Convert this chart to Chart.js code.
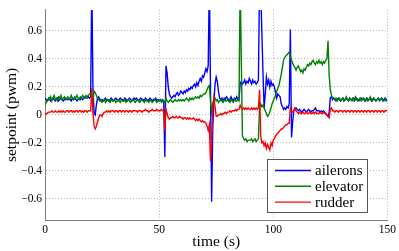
<!DOCTYPE html>
<html lang="en">
<head>
    <meta charset="UTF-8">
    <title>setpoint (pwm)</title>
    <script src="https://cdn.jsdelivr.net/npm/chart.js"></script>
    <style>
        html, body {
            margin: 0;
            padding: 0;
            background: #fff;
        }
        .chart-box {
            width: 399px;
            height: 251px;
        }
    </style>
</head>
<body>
    <div class="chart-box">
        <canvas id="setpointChart"></canvas>
    </div>

    <script>
        // samples every 0.5 s, from 0 to 150 s
        const sampleStep = 0.5;
        const seriesNames = ['ailerons', 'elevator', 'rudder'];
        const xTicks = [0, 50, 100, 150];
        const yTicks = [-0.6, -0.4, -0.2, 0, 0.2, 0.4, 0.6];

        const ailerons = [
            0.12,0.11,0.10,0.11,0.12,0.10,0.11,0.12,0.11,0.10,0.11,0.12,0.10,0.11,0.12,0.11,0.10,0.11,0.12,0.11,
            0.11,0.12,0.11,0.10,0.12,0.11,0.12,0.11,0.10,0.11,0.12,0.11,0.12,0.11,0.12,0.13,0.12,0.12,0.13,0.12,
            0.13,0.95,0.20,0.01,0.00,0.07,0.12,0.13,0.11,0.10,0.11,0.10,0.11,0.12,0.10,0.11,0.10,0.11,0.12,0.11,
            0.10,0.11,0.12,0.11,0.10,0.11,0.12,0.11,0.11,0.10,0.12,0.11,0.10,0.11,0.12,0.11,0.10,0.11,0.12,0.11,
            0.12,0.11,0.10,0.11,0.12,0.11,0.11,0.10,0.12,0.11,0.10,0.11,0.12,0.11,0.10,0.11,0.11,0.12,0.10,0.11,
            0.10,0.11,0.10,0.11,0.10,-0.30,0.35,0.30,0.20,0.15,0.13,0.12,0.13,0.14,0.13,0.15,0.16,0.14,0.15,0.17,
            0.16,0.15,0.17,0.16,0.18,0.17,0.19,0.18,0.20,0.19,0.21,0.22,0.20,0.23,0.21,0.24,0.26,0.24,0.28,0.27,
            0.30,0.33,0.31,0.35,0.95,0.20,-0.62,-0.10,0.10,0.22,0.27,0.24,0.17,0.12,0.11,0.12,0.10,0.12,0.11,0.13,
            0.12,0.10,0.11,0.13,0.11,0.10,0.12,0.11,0.13,0.11,0.11,0.22,0.24,0.22,0.23,0.25,0.22,0.24,0.23,0.26,
            0.24,0.22,0.25,0.23,0.24,0.22,0.23,0.25,0.95,0.90,0.60,0.30,0.05,0.15,0.27,0.22,0.25,0.20,0.24,0.21,
            0.22,0.20,0.16,0.12,0.15,0.14,0.13,0.08,0.06,0.04,0.05,0.04,0.06,0.05,0.08,0.61,-0.16,-0.05,0.03,0.05,
            0.05,0.04,0.03,0.04,0.03,0.02,0.03,0.04,0.03,0.02,0.03,0.04,0.03,0.02,0.03,0.03,0.04,0.05,0.03,0.03,
            0.03,0.02,0.03,0.02,0.03,0.02,0.01,0.00,-0.01,0.02,0.12,0.13,0.11,0.12,0.11,0.10,0.11,0.12,0.11,0.10,
            0.11,0.12,0.10,0.11,0.12,0.11,0.10,0.12,0.11,0.11,0.12,0.10,0.11,0.12,0.11,0.10,0.11,0.12,0.11,0.12,
            0.11,0.10,0.12,0.11,0.11,0.12,0.10,0.11,0.12,0.11,0.10,0.11,0.12,0.11,0.11,0.12,0.10,0.11,0.12,0.11,
            0.11
        ];

        const elevator = [
            0.07,0.09,0.10,0.12,0.11,0.13,0.10,0.12,0.14,0.11,0.12,0.10,0.13,0.12,0.14,0.11,0.12,0.13,0.11,0.12,
            0.13,0.11,0.12,0.14,0.12,0.11,0.13,0.12,0.14,0.12,0.11,0.13,0.12,0.14,0.13,0.12,0.14,0.13,0.14,0.15,
            0.15,0.14,0.10,0.17,0.16,0.14,0.12,0.11,0.10,0.11,0.09,0.10,0.11,0.09,0.10,0.11,0.10,0.09,0.11,0.10,
            0.10,0.11,0.09,0.10,0.11,0.10,0.09,0.11,0.10,0.10,0.11,0.09,0.10,0.11,0.10,0.09,0.10,0.11,0.10,0.09,
            0.10,0.11,0.10,0.09,0.10,0.11,0.10,0.09,0.11,0.10,0.10,0.09,0.11,0.10,0.09,0.10,0.11,0.10,0.09,0.10,
            0.10,0.11,0.09,0.10,0.10,0.09,0.12,0.10,0.09,0.10,0.11,0.10,0.09,0.10,0.11,0.10,0.10,0.11,0.10,0.11,
            0.10,0.11,0.10,0.11,0.12,0.11,0.10,0.12,0.11,0.12,0.11,0.12,0.13,0.12,0.13,0.12,0.14,0.13,0.14,0.15,
            0.15,0.16,0.18,0.20,0.21,0.10,0.02,0.08,0.11,0.12,0.10,0.11,0.09,0.10,0.11,0.10,0.09,0.11,0.10,0.10,
            0.11,0.10,0.09,0.11,0.10,0.09,0.11,0.10,0.10,0.11,0.10,0.95,0.40,-0.15,-0.17,-0.18,-0.17,-0.19,-0.18,-0.18,
            -0.18,-0.17,-0.19,-0.18,-0.17,-0.19,-0.18,-0.17,0.05,0.08,0.06,0.07,0.05,0.03,0.01,-0.01,0.00,0.02,0.05,0.08,
            0.10,0.12,0.14,0.17,0.19,0.21,0.25,0.29,0.34,0.39,0.41,0.42,0.43,0.44,0.45,0.42,0.39,0.37,0.35,0.34,
            0.32,0.34,0.35,0.33,0.31,0.32,0.30,0.33,0.32,0.34,0.36,0.35,0.37,0.36,0.38,0.39,0.37,0.36,0.38,0.37,
            0.39,0.37,0.38,0.36,0.38,0.37,0.39,0.40,0.53,0.28,0.18,0.14,0.12,0.12,0.11,0.12,0.10,0.11,0.12,0.10,
            0.11,0.12,0.10,0.11,0.13,0.11,0.10,0.12,0.11,0.10,0.12,0.11,0.13,0.11,0.10,0.11,0.12,0.10,0.11,0.12,
            0.10,0.11,0.12,0.10,0.11,0.13,0.11,0.10,0.12,0.11,0.10,0.11,0.12,0.10,0.11,0.12,0.11,0.10,0.11,0.10,
            0.10
        ];

        const rudder = [
            0.00,0.01,0.01,0.02,0.02,0.02,0.03,0.02,0.02,0.03,0.02,0.02,0.03,0.02,0.03,0.02,0.03,0.02,0.02,0.03,
            0.03,0.02,0.03,0.03,0.02,0.03,0.02,0.03,0.03,0.02,0.03,0.03,0.02,0.03,0.02,0.03,0.03,0.02,0.03,0.03,
            0.03,0.19,0.02,-0.08,-0.10,-0.08,-0.05,-0.02,0.00,0.00,-0.01,0.01,0.02,0.02,0.03,0.02,0.03,0.02,0.03,0.03,
            0.03,0.02,0.03,0.03,0.02,0.03,0.03,0.02,0.03,0.03,0.02,0.03,0.03,0.02,0.03,0.03,0.02,0.03,0.03,0.03,
            0.03,0.02,0.03,0.03,0.03,0.02,0.03,0.03,0.04,0.03,0.03,0.02,0.03,0.03,0.04,0.03,0.03,0.03,0.04,0.03,
            0.03,0.03,0.04,0.03,0.03,-0.11,0.04,0.01,-0.02,-0.03,-0.02,-0.02,-0.01,-0.02,-0.02,-0.01,-0.02,-0.02,-0.01,-0.02,
            -0.02,-0.03,-0.02,-0.02,-0.03,-0.02,-0.03,-0.02,-0.03,-0.03,-0.02,-0.03,-0.04,-0.03,-0.04,-0.03,-0.04,-0.05,-0.04,-0.05,
            -0.05,-0.06,-0.08,-0.11,-0.07,-0.33,-0.20,0.05,0.12,0.06,-0.01,-0.01,0.00,0.00,0.01,0.00,0.01,0.01,0.02,0.01,
            0.02,0.02,0.03,0.02,0.03,0.03,0.03,0.04,0.03,0.04,0.04,0.07,0.05,0.04,0.05,0.04,0.05,0.04,0.05,0.04,
            0.04,0.05,0.04,0.05,0.04,0.05,0.04,0.05,0.18,-0.15,-0.20,-0.19,-0.22,-0.20,-0.24,-0.21,-0.23,-0.25,-0.20,-0.22,
            -0.18,-0.17,-0.15,-0.14,-0.13,-0.12,-0.11,-0.10,-0.10,-0.09,-0.08,-0.07,-0.07,-0.06,-0.06,0.05,0.03,0.02,0.03,0.045,
            0.03,0.02,0.01,0.02,0.01,0.01,0.02,0.01,0.01,0.02,0.01,0.01,0.02,0.01,0.01,0.02,0.01,0.02,0.01,0.01,
            0.01,0.02,0.01,0.01,0.02,0.01,0.01,0.00,-0.01,-0.02,0.04,0.05,0.03,0.03,0.02,0.03,0.03,0.02,0.03,0.03,
            0.03,0.02,0.03,0.03,0.02,0.03,0.03,0.02,0.03,0.03,0.02,0.03,0.03,0.02,0.03,0.03,0.02,0.03,0.03,0.02,
            0.03,0.03,0.02,0.03,0.03,0.02,0.03,0.03,0.02,0.03,0.03,0.02,0.03,0.03,0.02,0.03,0.03,0.02,0.03,0.03,
            0.03
        ];

        const serif = '"Liberation Serif", "DejaVu Serif", serif';

        function toPoints(values) {
            return values.map((v, i) => ({ x: i * sampleStep, y: v }));
        }

        // legend box drawn inside the plot, lower right (matlab style)
        const boxLegend = {
            id: 'boxLegend',
            afterDraw(chart) {
                const { ctx, chartArea } = chart;
                const w = 100, h = 53;
                const x = Math.round(chartArea.right - 20 - w);
                const y = Math.round(chartArea.bottom - 8 - h);
                ctx.save();
                ctx.fillStyle = '#ffffff';
                ctx.fillRect(x, y, w, h);
                ctx.strokeStyle = '#555555';
                ctx.lineWidth = 1;
                ctx.strokeRect(x + 0.5, y + 0.5, w, h);
                ctx.font = '15px ' + serif;
                ctx.textBaseline = 'middle';
                chart.data.datasets.forEach((ds, i) => {
                    const cy = y + 11.5 + i * 15.8;
                    ctx.strokeStyle = ds.borderColor;
                    ctx.lineWidth = 1.4;
                    ctx.beginPath();
                    ctx.moveTo(x + 8, cy);
                    ctx.lineTo(x + 44, cy);
                    ctx.stroke();
                    ctx.fillStyle = '#000000';
                    ctx.fillText(ds.label, x + 48, cy + 0.5);
                });
                ctx.restore();
            }
        };

        const ctx = document.getElementById('setpointChart').getContext('2d');
        const setpointChart = new Chart(ctx, {
            type: 'line',
            data: {
                datasets: [{
                    label: seriesNames[0],
                    data: toPoints(ailerons),
                    borderColor: '#0000ff',
                    order: 3
                }, {
                    label: seriesNames[1],
                    data: toPoints(elevator),
                    borderColor: '#008000',
                    order: 2
                }, {
                    label: seriesNames[2],
                    data: toPoints(rudder),
                    borderColor: '#ff0000',
                    order: 1
                }]
            },
            options: {
                responsive: true,
                maintainAspectRatio: false,
                animation: false,
                events: [],
                layout: {
                    padding: { top: 7, right: 10, left: 0, bottom: 0 }
                },
                elements: {
                    point: { radius: 0 },
                    line: { borderWidth: 1.4, tension: 0 }
                },
                plugins: {
                    legend: { display: false },
                    tooltip: { enabled: false }
                },
                scales: {
                    x: {
                        type: 'linear',
                        min: 0,
                        max: 150,
                        afterFit: s => { s.height = 31; },
                        afterBuildTicks: axis => { axis.ticks = xTicks.map(v => ({ value: v })); },
                        grid: { color: '#b8b8b8', drawTicks: false },
                        border: { color: '#808080', width: 1, dash: [1, 2] },
                        ticks: {
                            color: '#000',
                            padding: 3,
                            maxRotation: 0,
                            font: { family: serif, size: 11.5 }
                        },
                        title: {
                            display: true,
                            text: 'time (s)',
                            color: '#000',
                            padding: { top: 0, bottom: 0 },
                            font: { family: serif, size: 15.5 }
                        }
                    },
                    y: {
                        min: -0.75,
                        max: 0.75,
                        afterFit: s => { s.width = 45; },
                        afterBuildTicks: axis => { axis.ticks = yTicks.map(v => ({ value: v })); },
                        grid: { color: '#b8b8b8', drawTicks: false },
                        border: { color: '#808080', width: 1, dash: [1, 2] },
                        ticks: {
                            color: '#000',
                            padding: 3,
                            font: { family: serif, size: 11.5 },
                            callback: v => v === 0 ? '0' : (v < 0 ? '\u2212' : '') + Math.abs(v).toFixed(1)
                        },
                        title: {
                            display: true,
                            text: 'setpoint (pwm)',
                            color: '#000',
                            padding: { top: 3, bottom: 0 },
                            font: { family: serif, size: 15.5 }
                        }
                    }
                }
            },
            plugins: [boxLegend]
        });
    </script>
</body>
</html>
